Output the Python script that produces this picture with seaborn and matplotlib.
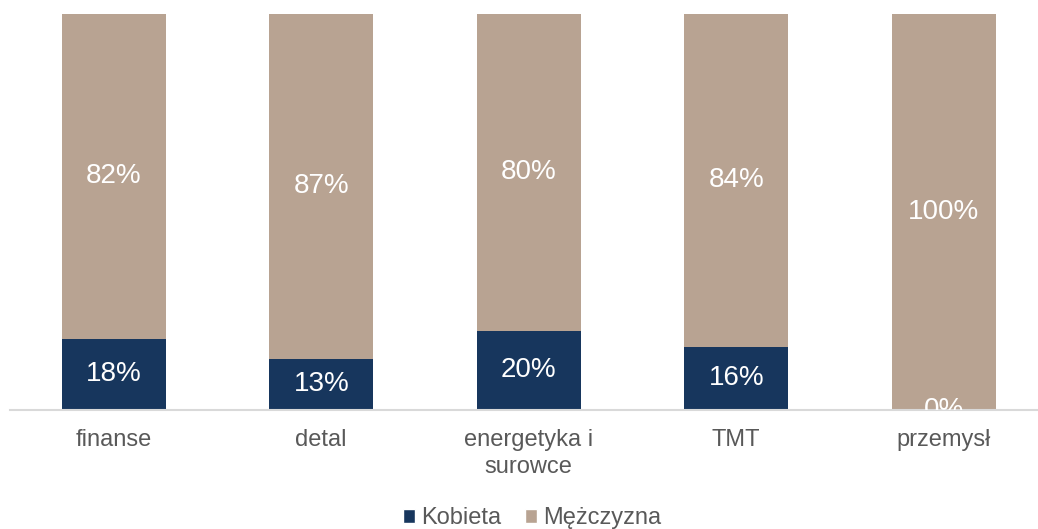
import matplotlib
matplotlib.use("Agg")
import matplotlib.pyplot as plt
from matplotlib.patches import Patch
import pandas as pd
import seaborn as sns


categories = ["finanse", "detal", "energetyka i\nsurowce", "TMT", "przemysł"]
kobieta = [18, 13, 20, 16, 0]
mezczyzna = [82, 87, 80, 84, 100]

NAVY = "#17365D"
TAN = "#B8A392"
TEXT_GREY = "#595959"


def plot_gender_share():
    """
    Stacked 100% bars: share of women and men per sector.
    """
    sns.set_style("white")
    plt.rcParams["font.family"] = ["Liberation Sans", "DejaVu Sans"]

    data = pd.DataFrame({
        "sektor": categories,
        "Kobieta": kobieta,
        "Mężczyzna": mezczyzna,
    })
    data["razem"] = data["Kobieta"] + data["Mężczyzna"]

    fig = plt.figure(figsize=(10.38, 5.29), dpi=100)
    ax = fig.add_axes([10 / 1038, 119 / 529, 1037.5 / 1038, 396 / 529])

    # full bar in tan, women share drawn on top in navy
    sns.barplot(data=data, x="sektor", y="razem", color=TAN, width=0.5,
                saturation=1, linewidth=0, ax=ax)
    sns.barplot(data=data, x="sektor", y="Kobieta", color=NAVY, width=0.5,
                saturation=1, linewidth=0, ax=ax)

    for i, row in data.iterrows():
        ax.text(i, row["Kobieta"] / 2, f"{row['Kobieta']}%", ha="center",
                va="center", color="white", fontsize=20, clip_on=True)
        ax.text(i, row["Kobieta"] + row["Mężczyzna"] / 2,
                f"{row['Mężczyzna']}%", ha="center", va="center",
                color="white", fontsize=20, clip_on=True)

    ax.set_xlim(-0.5, 4.5)
    ax.set_ylim(0, 100)
    ax.set_xlabel("")
    ax.set_ylabel("")
    ax.set_yticks([])
    ax.tick_params(axis="x", length=0, pad=13.5, labelsize=17,
                   labelcolor=TEXT_GREY)
    for label in ax.get_xticklabels():
        label.set_linespacing(1.3)
    for side in ["top", "left", "right"]:
        ax.spines[side].set_visible(False)
    ax.spines["bottom"].set_color("#D9D9D9")
    ax.spines["bottom"].set_linewidth(1.5)

    handles = [Patch(facecolor=NAVY, label="Kobieta"),
               Patch(facecolor=TAN, label="Mężczyzna")]
    fig.legend(handles=handles, loc="center", ncol=2,
               bbox_to_anchor=(532 / 1038, 1 - 518 / 529), frameon=False,
               fontsize=17, labelcolor=TEXT_GREY, handlelength=0.52,
               handleheight=0.52, handletextpad=0.25, columnspacing=1.0,
               borderpad=0, borderaxespad=0)

    fig.savefig("out.png", dpi=100)
    plt.close(fig)


plot_gender_share()
